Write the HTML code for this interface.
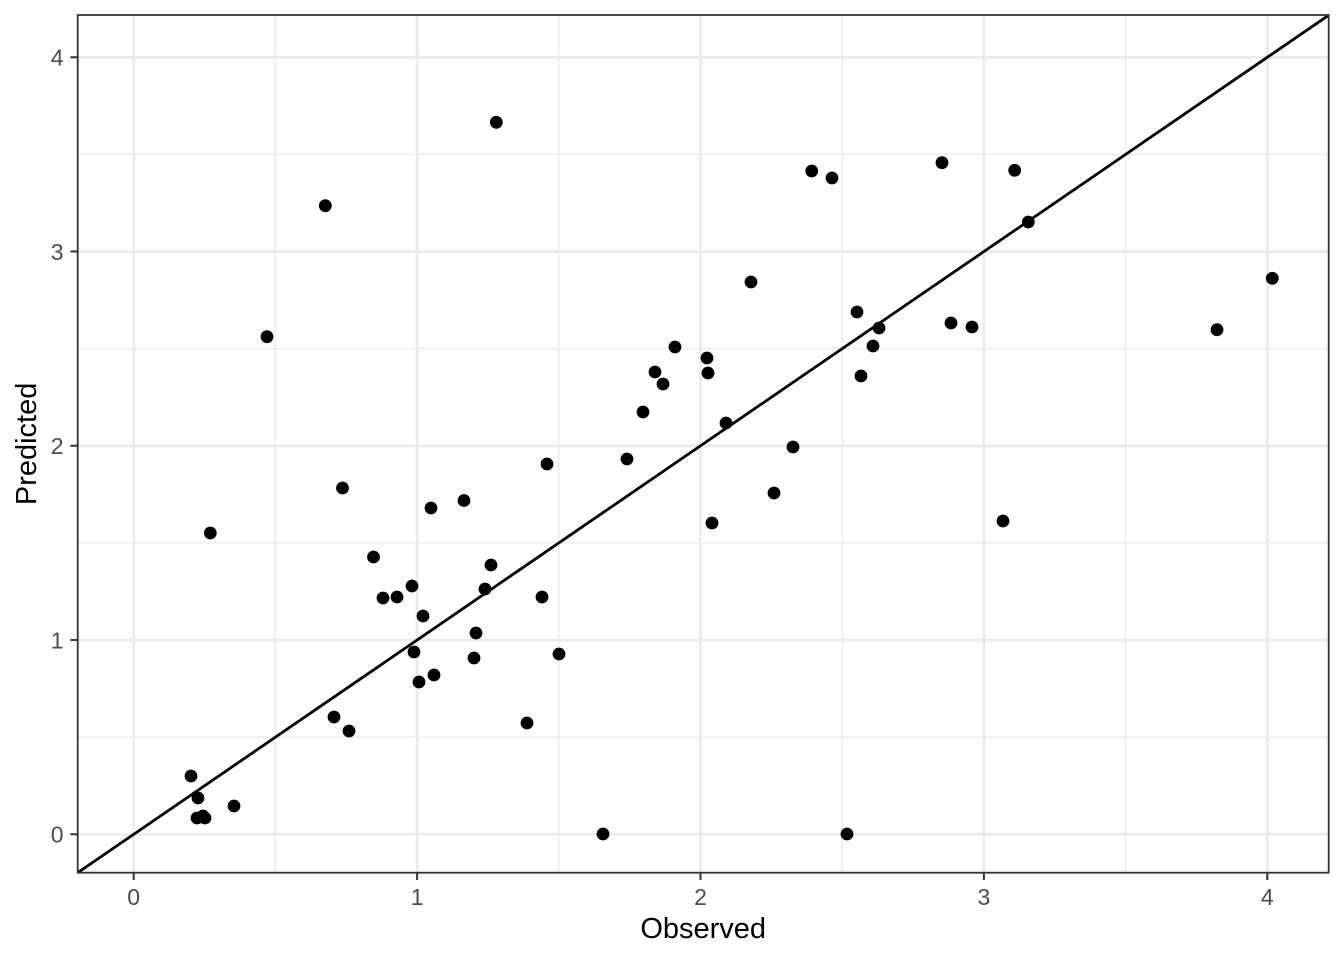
<!DOCTYPE html>
<html>
<head>
<meta charset="utf-8">
<style>
html,body{margin:0;padding:0;background:#fff;}
svg{display:block;}
text{font-family:"Liberation Sans",Arial,sans-serif;}
</style>
</head>
<body>
<svg width="1344" height="960" viewBox="0 0 1344 960" xmlns="http://www.w3.org/2000/svg">
<rect width="1344" height="960" fill="#fff"/>
<defs><clipPath id="p"><rect x="77.7" y="15" width="1251" height="857.7"/></clipPath></defs>
<g clip-path="url(#p)">
<path fill="none" stroke="#EBEBEB" stroke-width="1.4" d="M275.4 15V872.7M558.8 15V872.7M842.2 15V872.7M1125.6 15V872.7M77.7 737.2H1328.7M77.7 542.9H1328.7M77.7 348.7H1328.7M77.7 154.4H1328.7"/>
<path fill="none" stroke="#EBEBEB" stroke-width="2.8" d="M133.7 15V872.7M417.1 15V872.7M700.5 15V872.7M983.9 15V872.7M1267.3 15V872.7M77.7 834.3H1328.7M77.7 640.05H1328.7M77.7 445.8H1328.7M77.7 251.55H1328.7M77.7 57.3H1328.7"/>
<path fill="none" stroke="#000" stroke-width="12.8" stroke-linecap="round" d="M191 776h0M198 798h0M197 818h0M203 816h0M205 818h0M234 806h0M210.3 533h0M267 336.7h0M325.3 205.7h0M342.5 488h0M334 717h0M349 731h0M373.5 557h0M383 598h0M397 597h0M412 586h0M423 616h0M414 652h0M419 682h0M431 508h0M434 675h0M464 500.5h0M474 658h0M476 633h0M485 589h0M491 565h0M496.3 122.3h0M527 723h0M542 597h0M547 464h0M559 654h0M603 834h0M627 459h0M643 412h0M655 372h0M663 384h0M675 347h0M707 358h0M708 373h0M712 523h0M726 423h0M751 282h0M774 493h0M793 447h0M811.7 171h0M832 178h0M847 834h0M857 312h0M861 376h0M873 346h0M879 328h0M942 162.7h0M951 323h0M972 327h0M1003 521h0M1014.7 170.3h0M1028.3 222h0M1217 329.7h0M1272.3 278.3h0"/>
<path fill="none" stroke="#000" stroke-width="2.8" d="M77.7 872.7L1328.7 15.2"/>
</g>
<rect x="77.7" y="15" width="1251" height="857.7" fill="none" stroke="#333333" stroke-width="1.8"/>
<path fill="none" stroke="#333333" stroke-width="2" d="M70.4 834.3H77.7M70.4 640.05H77.7M70.4 445.8H77.7M70.4 251.55H77.7M70.4 57.3H77.7M133.7 872.7V880M417.1 872.7V880M700.5 872.7V880M983.9 872.7V880M1267.3 872.7V880"/>
<g fill="#4D4D4D" font-size="23" text-anchor="end">
<text x="63.5" y="842.5">0</text>
<text x="63.5" y="648.3">1</text>
<text x="63.5" y="454">2</text>
<text x="63.5" y="259.8">3</text>
<text x="63.5" y="65.5">4</text>
</g>
<g fill="#4D4D4D" font-size="23" text-anchor="middle">
<text x="133.7" y="905">0</text>
<text x="417.1" y="905">1</text>
<text x="700.5" y="905">2</text>
<text x="983.9" y="905">3</text>
<text x="1267.3" y="905">4</text>
</g>
<text x="703.2" y="938" font-size="29" text-anchor="middle" fill="#000">Observed</text>
<text transform="translate(36,443.9) rotate(-90)" font-size="29" text-anchor="middle" fill="#000">Predicted</text>
</svg>
</body>
</html>
